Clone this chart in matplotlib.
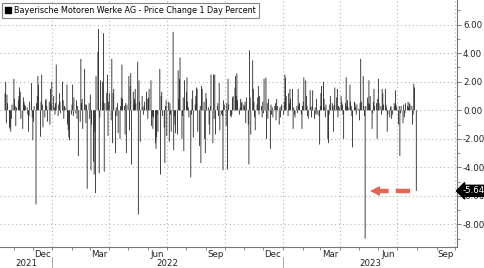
import pandas as pd
import matplotlib
matplotlib.use('Agg')
import matplotlib.pyplot as plt
import matplotlib.dates as mdates
import matplotlib.transforms as mtransforms
from matplotlib.patches import Patch

# daily % change, oldest first (last bar = latest session)
pct_change = [
    1.2, 2.0, -0.9, 1.1, 0.5, -1.2, -1.3, -1.5, -0.6, 0.4,
    2.2, 0.8, 0.3, -1.1, 0.2, 0.7, 1.0, 1.6, 1.3, -0.6,
    -1.3, 0.9, 0.6, 0.4, 0.3, 0.2, -0.3, -1.5, -0.4, 0.6,
    1.9, -0.5, -2.1, -0.8, 0.3, -6.6, 0.5, 1.0, 2.4, 1.8,
    -1.85, 0.6, 2.5, 0.4, -1.2, -0.5, 0.7,
    0.8, 0.3, -0.8, 0.6, -1.0, 1.5, 0.4, 2.0, 1.0, 0.2,
    -0.3, 0.5, 3.2, -0.4, 0.4, 1.2, 0.6, -0.2, 2.0, 0.7,
    -0.6, 0.3, 0.2, 1.8, -1.0, -1.4, -1.9, -2.1, -0.3, 0.4,
    1.8, -0.4, 0.9, -0.2, 0.7, -0.6, 0.3, -3.2, -0.8, 3.6,
    0.5, 0.8, -1.3, 2.9, 0.4, -0.9, 0.4,
    -5.5, 0.5, -0.6, 1.1, -4.2, -1.0, -3.6, -4.5, -1.5, -5.8,
    2.4, 4.1, 5.7, -4.4, -0.5, 2.1, 2.0, 0.6, 5.4, -4.3,
    0.5, 1.2, 2.5, -1.8, 0.6, 1.2, -0.7, 3.6, -2.3, 1.2,
    1.5, -3.0, 0.2, -0.4, 0.5, -1.6, -2.0, 0.3, 0.9, 3.2,
    0.8, 0.3, -1.7, 0.5, -3.0, 0.4, 2.4,
    -1.4, 1.7, 2.6, -3.8, 1.3, 0.4, 0.8, 1.5, 0.5, 3.4,
    -7.3, 2.1, 0.6, -2.2, 1.0, 0.2, -0.3, 0.3, 0.6, 1.3,
    0.8, -0.6, 0.9, 1.5, 2.1, -1.1, -0.4, -1.3, -0.5, -2.3,
    -2.7, -1.9, -0.3, -1.5, 2.9, -4.5, 1.0, 1.3, -0.4, -1.2,
    -3.7, 0.3, 0.7, -1.8, 0.6, -2.2, 0.5,
    -0.3, -1.5, 5.5, -2.8, -0.4, -1.0, -1.6, -1.7, 2.8, 0.8,
    2.2, 3.7, -2.0, -0.4, 0.9, -2.85, 2.1, 1.3, 2.3, 0.6,
    0.2, -0.5, -4.7, -0.3, 0.8, 1.4, -1.9, 0.4, 1.0, 1.6,
    1.5, -1.5, -2.5, 0.3, -3.7, 1.7, 1.5, 0.6, -2.0, -3.0,
    1.2, 0.8, 0.2, -1.0, -1.7, 0.3, 2.5,
    -2.3, 2.5, -0.6, 2.5, -1.7, 0.3, 0.5, -0.4, 1.9, -1.4,
    -0.3, -0.4, -4.2, 0.7, 0.4, -1.1, 0.5, -4.15, 2.2, 0.4,
    -0.4, -0.5, -0.3, 0.9, 1.0, 1.6, 2.4, 1.0, 2.6, 0.7,
    -0.3, 0.2, 0.8, 0.5, 0.6, 0.4, 0.3, 0.6, -0.9, 0.9,
    -1.0, -3.8, 4.2, 0.9, -1.7, 3.5, 1.5,
    0.6, -0.5, -1.4, 0.4, 0.9, 1.7, -0.3, 1.0, 0.3, -0.5,
    0.6, -0.2, 2.2, 2.3, -2.0, 0.5, -0.6, 0.8, -2.7, 0.4,
    -0.3, 0.2, -0.5, 0.3, 0.5, -0.7, 0.8, 0.3, -1.0, 0.2,
    -0.5, 0.3, 0.4, -0.3, 0.6, 2.5, 2.3, 1.0, -0.4, 1.2,
    0.5, 1.5, 0.8, 1.5, -1.3, 0.2, -0.3,
    -0.5, 0.3, -0.2, 1.5, 0.4, 0.5, -0.3, -1.3, 0.3, 0.6,
    2.3, 2.1, 1.0, 0.3, -0.4, -0.6, 1.4, 0.2, -0.5, 0.3,
    1.4, -0.6, 0.2, -0.3, 0.8, -0.3, -0.4, -2.4, 0.3, 1.2,
    1.7, 2.0, 0.8, 0.2, -0.5, 0.4, -2.0, -2.3, -0.3, 0.4,
    1.0, 0.5, 0.3, -1.5, 0.4, 1.6, 0.9,
    1.5, -0.5, 0.3, 0.2, 1.0, 0.6, 0.4, -0.3, -2.0, 0.5,
    2.3, 0.3, 0.7, 0.2, 1.8, 0.6, 0.3, -0.4, -2.6, 0.6,
    0.5, 0.2, -0.3, 0.4, 0.1, -0.7, 0.5, 3.6, 0.6, 2.4,
    0.3, -0.4, -9.0, 0.3, 0.9, 0.5, 2.1, 0.4, 1.0, -1.3,
    -0.2, 0.6, 1.5, 0.3, 0.5, -2.0, 0.8,
    2.2, 0.5, 0.3, -0.3, 1.5, 1.2, 0.4, 1.5, 0.4, 0.2,
    -1.5, -0.3, -0.5, 0.2, 0.3, -0.6, -0.3, 0.5, 0.3, 1.4,
    0.4, 0.2, -1.0, 0.3, -3.2, -0.2, 0.3, -0.9, 0.4, -0.5,
    -0.2, 0.5, 0.3, 0.6, 0.2, 0.5, 0.4, 0.3, -1.0, -0.3,
    1.85, 1.6, -5.645,
]
dates = pd.bdate_range(end='2023-07-31', periods=len(pct_change))

legend_label = 'Bayerische Motoren Werke AG - Price Change 1 Day Percent'
month_label_dates = pd.to_datetime(['2021-12-16', '2022-03-16', '2022-06-16', '2022-09-16',
                                    '2022-12-16', '2023-03-16', '2023-06-16', '2023-09-16'])
quarter_lines = pd.to_datetime(['2022-01-01', '2022-04-01', '2022-07-01', '2022-10-01',
                                '2023-01-01', '2023-04-01', '2023-07-01', '2023-10-01'])
years = [2021, 2022, 2023]
y_ticks = [-8, -6, -4, -2, 0, 2, 4, 6]

x_lo, x_hi = pd.Timestamp('2021-10-10'), pd.Timestamp('2023-10-03')
grid_kw = dict(color='#b5b5b5', linestyle=(0, (1, 2.5)), linewidth=0.8, zorder=0)
arrow_red = '#ea6452'

fig = plt.figure(figsize=(4.85, 2.68), dpi=100)
ax = fig.add_axes([0, 0.0784, 0.9417, 0.9216])

# one trading-day wide bars (~0.9 px); no snapping so thin bars never vanish
bars = ax.bar(dates, pct_change, width=1.3, color='#1e1e1e', linewidth=0, zorder=2)
for b in bars:
    b.set_snap(False)

ax.set_xlim(x_lo, x_hi)
ax.set_ylim(-9.58, 7.73)

# grid
for v in y_ticks:
    ax.axhline(v, **grid_kw)
for d in quarter_lines:
    ax.axvline(d, **grid_kw)

# spines
for s in ['top', 'left']:
    ax.spines[s].set_visible(False)
for s in ['right', 'bottom']:
    ax.spines[s].set_color('#777777')
    ax.spines[s].set_linewidth(0.8)

# y axis on the right
ax.yaxis.tick_right()
ax.set_yticks(y_ticks)
ax.set_yticklabels([f'{v:.2f}' for v in y_ticks])
ax.set_yticks(range(-9, 8, 2), minor=True)
ax.tick_params(axis='y', which='major', length=3, width=0.7, color='#777777',
               labelsize=6.2, pad=1.5, labelcolor='#222222')
ax.tick_params(axis='y', which='minor', length=2, width=0.6, color='#777777')

# x axis: month labels in the middle of each quarter-end month, monthly minor ticks
ax.set_xticks(month_label_dates)
ax.xaxis.set_major_formatter(mdates.DateFormatter('%b'))
ax.xaxis.set_minor_locator(mdates.MonthLocator())
ax.tick_params(axis='x', which='major', length=0, labelsize=6.2, pad=2.5,
               labelcolor='#222222')
ax.tick_params(axis='x', which='minor', length=2.5, width=0.6, color='#777777')

# year labels centred on the visible part of each year
trans = mtransforms.blended_transform_factory(ax.transData, ax.transAxes)
for yr in years:
    a = max(pd.Timestamp(f'{yr}-01-01'), x_lo)
    b = min(pd.Timestamp(f'{yr + 1}-01-01'), x_hi)
    mid = a + (b - a) / 2
    ax.text(mid, -0.068, str(yr), transform=trans, ha='center', va='center',
            fontsize=6.2, color='#222222', clip_on=False)
for yr in years[1:]:
    ax.plot([pd.Timestamp(f'{yr}-01-01')] * 2, [-0.04, -0.09], transform=trans,
            color='#999999', lw=0.6, clip_on=False)

# legend box
handle = Patch(facecolor='black', edgecolor='black')
leg = ax.legend([handle], [legend_label], loc='upper left', bbox_to_anchor=(0.0, 0.995),
                fontsize=5.8, frameon=True, fancybox=False, handlelength=0.8,
                handleheight=0.8, handletextpad=0.4, borderpad=0.4, borderaxespad=0.2)
leg.get_frame().set_edgecolor('#666666')
leg.get_frame().set_linewidth(0.8)

# last value tag on the right axis
last_date, last_value = dates[-1], pct_change[-1]
ytrans = mtransforms.blended_transform_factory(ax.transAxes, ax.transData)
ax.text(1.012, last_value, f'{last_value:.3f}', transform=ytrans, ha='left', va='center',
        fontsize=6.2, color='white', zorder=5, clip_on=False,
        bbox=dict(boxstyle='larrow,pad=0.12', fc='black', ec='black'))

# red dashed arrow pointing at the latest bar
tail = last_date - pd.Timedelta(days=10)
head = last_date - pd.Timedelta(days=60)
ax.plot([tail, head], [last_value, last_value], color=arrow_red, lw=3.2,
        linestyle=(0, (3.2, 1.6)), solid_capstyle='butt', zorder=4)
ax.plot([head - pd.Timedelta(days=5)], [last_value], marker='<', markersize=7,
        color=arrow_red, markeredgewidth=0, zorder=4)

fig.savefig('out.png', dpi=100)
